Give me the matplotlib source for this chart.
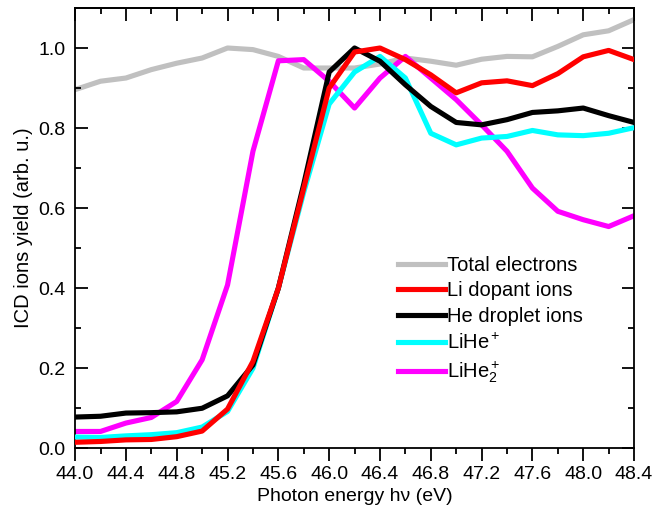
import matplotlib.pyplot as plt
import numpy as np

plt.rcParams['font.family'] = ['Liberation Sans', 'DejaVu Sans']
plt.rcParams['mathtext.fontset'] = 'custom'
plt.rcParams['mathtext.rm'] = 'Liberation Sans'
plt.rcParams['mathtext.it'] = 'Liberation Sans:italic'

# photon energy grid (eV)
energy = np.round(np.arange(44.0, 48.41, 0.2), 1)

total_electrons = [0.896, 0.917, 0.925, 0.946, 0.962, 0.975, 1.000, 0.996, 0.979, 0.950,
                   0.950, 0.950, 0.960, 0.975, 0.967, 0.957, 0.972, 0.979, 0.978, 1.004,
                   1.033, 1.043, 1.071]
li_dopant = [0.015, 0.017, 0.021, 0.022, 0.029, 0.043, 0.098, 0.217, 0.400, 0.650,
             0.900, 0.990, 1.000, 0.971, 0.933, 0.888, 0.913, 0.918, 0.906, 0.936,
             0.978, 0.994, 0.971]
he_droplet = [0.078, 0.080, 0.088, 0.089, 0.091, 0.100, 0.131, 0.208, 0.400, 0.660,
              0.940, 1.000, 0.967, 0.908, 0.854, 0.814, 0.808, 0.821, 0.839, 0.843,
              0.850, 0.831, 0.814]
lihe = [0.028, 0.027, 0.031, 0.034, 0.039, 0.053, 0.092, 0.200, 0.400, 0.640,
        0.860, 0.940, 0.979, 0.925, 0.787, 0.758, 0.775, 0.779, 0.794, 0.783,
        0.781, 0.787, 0.801]
lihe2 = [0.042, 0.042, 0.063, 0.077, 0.117, 0.221, 0.408, 0.742, 0.968, 0.971,
         0.917, 0.850, 0.925, 0.979, 0.925, 0.871, 0.808, 0.742, 0.650, 0.592,
         0.571, 0.554, 0.581]

fig = plt.figure(figsize=(6.53, 5.18), dpi=100)
ax = fig.add_axes([0.115, 0.1346, 0.856, 0.850])

lw = 3.7
ax.plot(energy, total_electrons, color='#c0c0c0', lw=lw, label='Total electrons', zorder=1)
ax.plot(energy, lihe2, color='#ff00ff', lw=lw, label='LiHe$_2^+$', zorder=2)
ax.plot(energy, lihe, color='#00ffff', lw=lw, label='LiHe$^+$', zorder=3)
ax.plot(energy, he_droplet, color='black', lw=lw, label='He droplet ions', zorder=4)
ax.plot(energy, li_dopant, color='#ff0000', lw=lw, label='Li dopant ions', zorder=5)

ax.set_xlim(44.0, 48.4)
ax.set_ylim(0, 1.10)
ax.set_xticks(np.arange(44.0, 48.41, 0.4))
ax.set_xticks(np.arange(44.0, 48.41, 0.2), minor=True)
ax.set_yticks(np.arange(0, 1.01, 0.2))
ax.set_yticks(np.arange(0, 1.01, 0.1), minor=True)
ax.xaxis.set_major_formatter(plt.FormatStrFormatter('%.1f'))
ax.yaxis.set_major_formatter(plt.FormatStrFormatter('%.1f'))

for s in ax.spines.values():
    s.set_linewidth(1.3)
ax.tick_params(axis='both', which='major', labelsize=14, width=1.3, length=9)
ax.tick_params(axis='both', which='minor', width=1.3, length=4.5)
ax.tick_params(axis='x', which='both', direction='out', top=False)
ax.tick_params(axis='y', which='both', direction='in', right=True, pad=7)

# top axis: inward ticks, no labels
top = ax.secondary_xaxis('top')
top.set_xticks(np.arange(44.0, 48.41, 0.4))
top.set_xticks(np.arange(44.0, 48.41, 0.2), minor=True)
top.tick_params(which='major', direction='in', length=9, width=1.3, labeltop=False)
top.tick_params(which='minor', direction='in', length=4.5, width=1.3)
top.spines['top'].set_linewidth(1.3)

ax.set_xlabel('Photon energy h\u03bd (eV)', fontsize=14)
ax.set_ylabel('ICD ions yield (arb. u.)', fontsize=14.5)

h, l = ax.get_legend_handles_labels()
order = [0, 4, 3, 2, 1]
ax.legend([h[i] for i in order], [l[i] for i in order], loc='upper left',
          bbox_to_anchor=(0.559, 0.46), frameon=False, fontsize=14.5,
          handlelength=2.35, handletextpad=0.12, labelspacing=0.33, borderpad=0)

fig.savefig('out.png', dpi=100)
